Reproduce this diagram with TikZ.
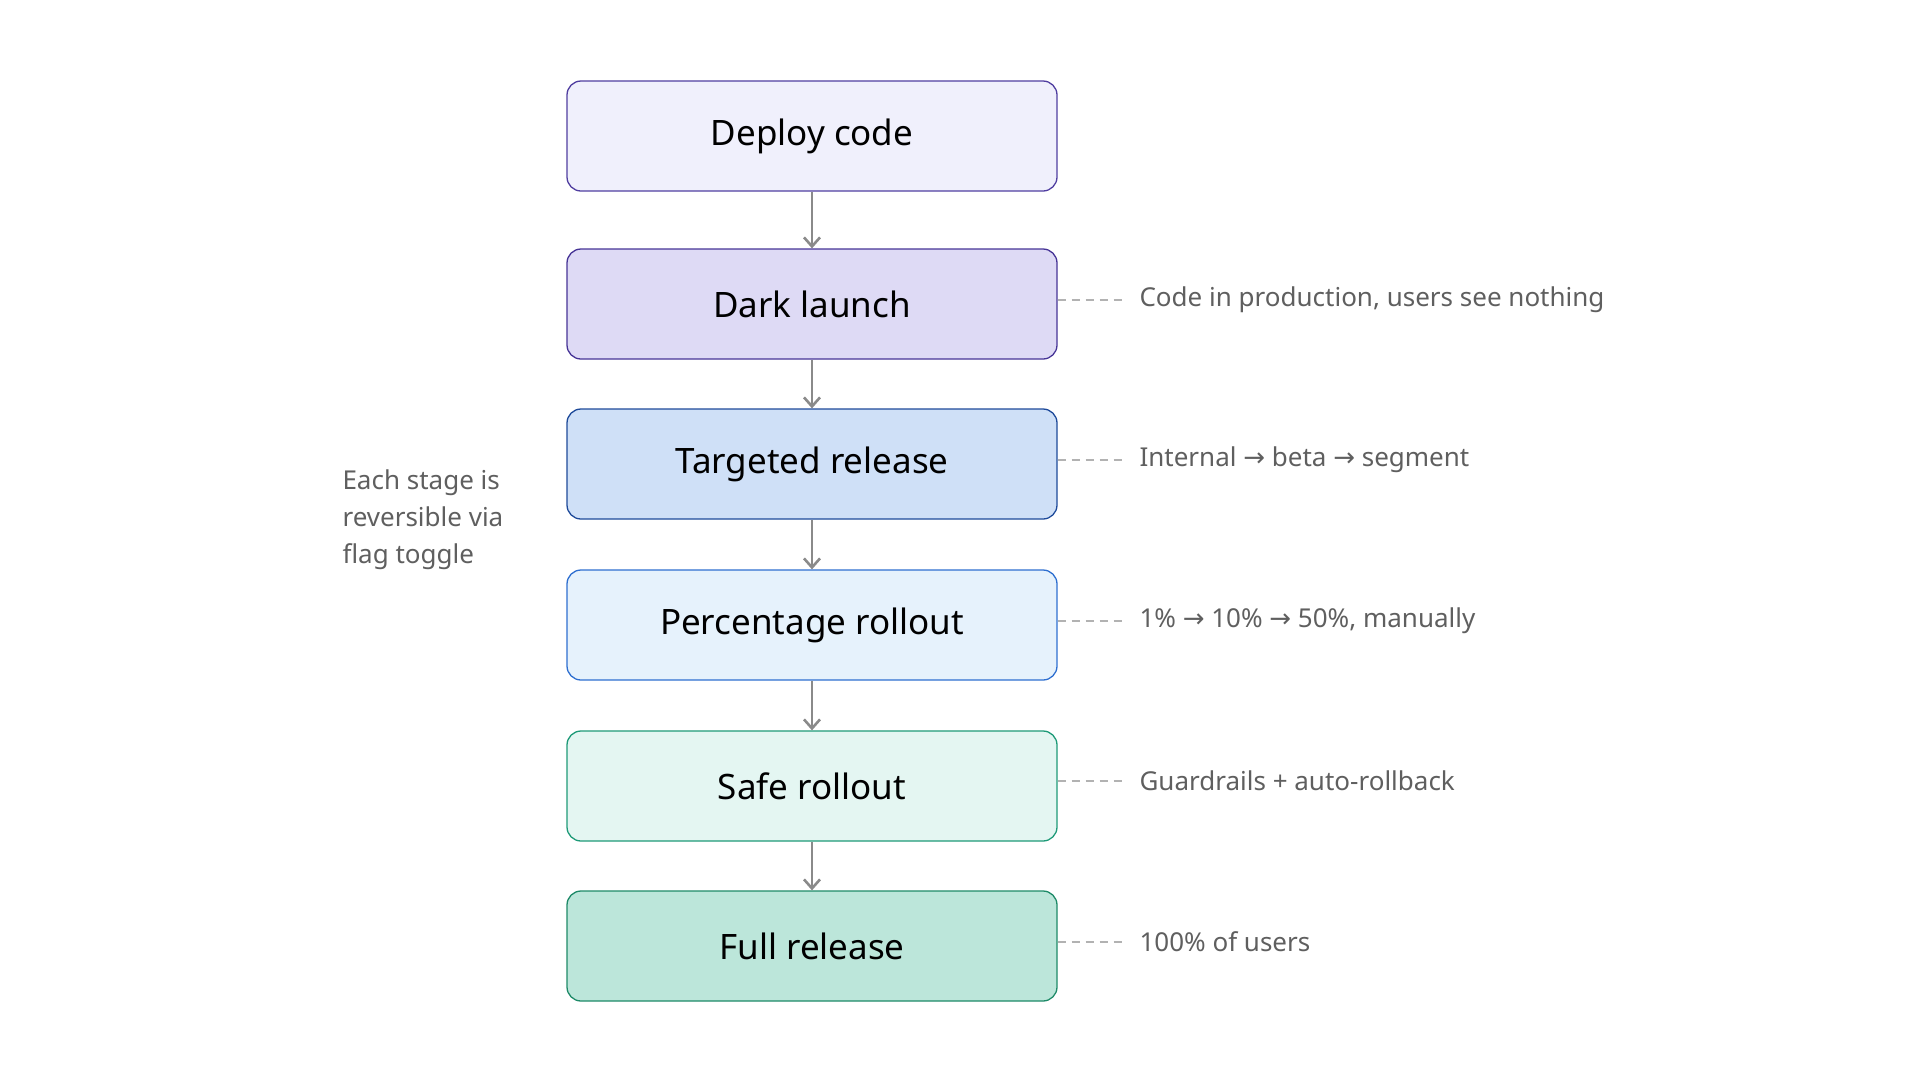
\documentclass[tikz,border=0pt]{standalone}
\usepackage{fontspec}
\setmainfont{Noto Sans}
\newfontfamily\arrfont{DejaVu Sans}
\newcommand{\ar}{{\arrfont →}}
\usetikzlibrary{arrows.meta}
\definecolor{note}{HTML}{5F5F5F}
\definecolor{arr}{HTML}{8A8A8A}
\begin{document}
\begin{tikzpicture}[x=1pt,y=-1pt,
 box/.style={draw, line width=1.3pt, rounded corners=14pt, minimum width=490pt, minimum height=110pt, font=\fontsize{35}{40}\selectfont, text=black},
 con/.style={draw=arr, line width=2.6pt, -{Straight Barb[length=9pt,width=16pt,line width=2.6pt]}},
 dsh/.style={draw=gray!60, line width=1.3pt, dash pattern=on 8pt off 6pt},
 lab/.style={anchor=west, text=note, font=\fontsize{26}{30}\selectfont}]
\useasboundingbox (0,0) rectangle (1920,1080);
\node[box, fill={rgb,255:red,240;green,240;blue,252}, draw={rgb,255:red,80;green,62;blue,160}] (a) at (812,136) {Deploy code};
\node[box, fill={rgb,255:red,222;green,218;blue,245}, draw={rgb,255:red,70;green,52;blue,150}] (b) at (812,304) {Dark launch};
\node[box, fill={rgb,255:red,207;green,224;blue,247}, draw={rgb,255:red,30;green,74;blue,154}] (c) at (812,464) {Targeted release};
\node[box, fill={rgb,255:red,230;green,242;blue,252}, draw={rgb,255:red,46;green,111;blue,208}] (d) at (812,625) {Percentage rollout};
\node[box, fill={rgb,255:red,228;green,246;blue,242}, draw={rgb,255:red,30;green,154;blue,120}] (e) at (812,786) {Safe rollout};
\node[box, fill={rgb,255:red,188;green,230;blue,218}, draw={rgb,255:red,30;green,138;blue,104}] (f) at (812,946) {Full release};
\foreach \p/\q in {a/b,b/c,c/d,d/e,e/f} \draw[con] (\p.south) -- (\q.north);
\foreach \n/\t/\yy in {b/{Code in production, users see nothing}/300, c/{Internal \ar{} beta \ar{} segment}/460, d/{1\% \ar{} 10\% \ar{} 50\%, manually}/621, e/{Guardrails + auto-rollback}/781, f/{100\% of users}/942}{
 \coordinate (\n e) at (1125,\yy);
 \draw[dsh] (\n.east |- \n e) -- (\n e);
 \node[lab] (\n l) at (1136,\yy) {\t};
}
\node[anchor=north west, align=left, text=note, font=\fontsize{26}{37}\selectfont] (side) at (339,466) {Each stage is\\reversible via\\flag toggle};
\end{tikzpicture}
\end{document}
